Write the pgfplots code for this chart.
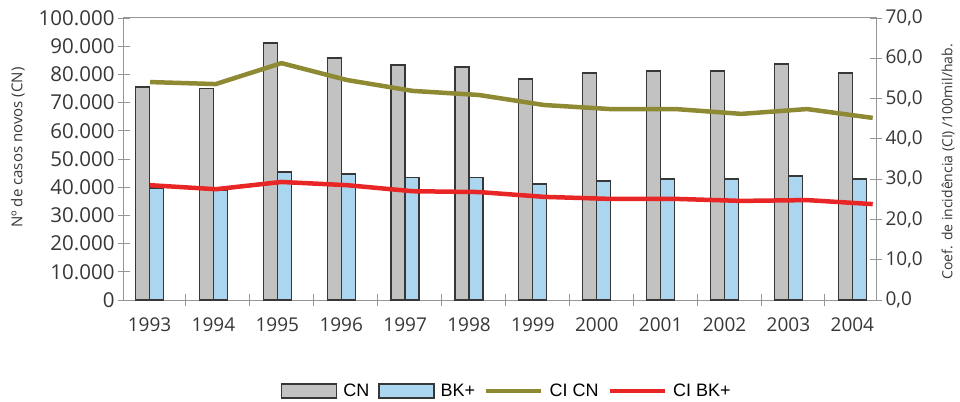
\documentclass[border=0pt]{standalone}
\usepackage{fontspec}
\setmainfont{Open Sans}
\newfontfamily\legfont{Liberation Sans}
\usepackage{pgfplots}
\pgfplotsset{compat=1.18}
\definecolor{cngray}{RGB}{194,194,194}
\definecolor{bkblue}{RGB}{170,214,240}
\definecolor{barline}{RGB}{55,55,55}
\definecolor{olivec}{RGB}{142,138,52}
\definecolor{cired}{RGB}{232,38,38}
\definecolor{axgray}{RGB}{150,150,150}
\definecolor{txt}{RGB}{55,55,55}
\begin{document}
\begin{tikzpicture}
\begin{axis}[name=ax, scale only axis, width=752bp, height=282bp,
  xmin=-0.29, xmax=11.48, ymin=0, ymax=100000,
  axis line style={axgray, line width=1bp},
  tick align=center, tick style={axgray, line width=0.8bp},
  ytick={0,10000,...,100000}, ytick pos=left, major tick length=12bp,
  scaled y ticks=false,
  /pgf/number format/fixed, /pgf/number format/1000 sep={.}, /pgf/number format/assume math mode=true,
  yticklabel style={font=\fontsize{20.5bp}{20.5bp}\selectfont, text=txt},
  xtick={0.11,1.11,2.11,3.11,4.11,5.11,6.11,7.11,8.11,9.11,10.11,11.11},
  xticklabels={1993,1994,1995,1996,1997,1998,1999,2000,2001,2002,2003,2004},
  x tick style={draw=none}, xtick pos=bottom,
  xticklabel style={font=\fontsize{19bp}{19bp}\selectfont, text=txt, yshift=-8bp},
  ylabel={Nº de casos novos (CN)},
  ylabel style={at={(axis description cs:-0.141,0.54)}, anchor=center, font=\fontsize{15bp}{15bp}\selectfont, text=txt},
  clip=false, unbounded coords=jump,
]
\addplot[ybar, bar width=14bp, bar shift=0bp, fill=cngray, draw=barline, line width=1.2bp]
 coordinates {(0,75500) (1,75000) (2,91100) (3,85800) (4,83300) (5,82600) (6,78400) (7,80500) (8,81200) (9,81200) (10,83700) (11,80500)};
\addplot[ybar, bar width=14bp, bar shift=14bp, fill=bkblue, draw=barline, line width=1.2bp]
 coordinates {(0,39700) (1,39000) (2,45400) (3,44700) (4,43300) (5,43300) (6,41100) (7,42200) (8,42900) (9,42900) (10,44000) (11,42900)};
% category separator marks on the x axis
\addplot[axgray, line width=1bp, mark=none]
 coordinates {(0.68,-2000) (0.68,2000) (nan,nan) (1.68,-2000) (1.68,2000) (nan,nan)
  (2.68,-2000) (2.68,2000) (nan,nan) (3.68,-2000) (3.68,2000) (nan,nan)
  (4.68,-2000) (4.68,2000) (nan,nan) (5.68,-2000) (5.68,2000) (nan,nan)
  (6.68,-2000) (6.68,2000) (nan,nan) (7.68,-2000) (7.68,2000) (nan,nan)
  (8.68,-2000) (8.68,2000) (nan,nan) (9.68,-2000) (9.68,2000) (nan,nan)
  (10.68,-2000) (10.68,2000)};
\end{axis}
\begin{axis}[scale only axis, width=752bp, height=282bp,
  xmin=-0.396, xmax=11.05, ymin=0, ymax=70,
  axis x line=none, axis y line*=right,
  axis line style={axgray, line width=1bp},
  tick align=center, tick style={axgray, line width=0.8bp}, major tick length=12bp,
  ytick={0,10,...,70},
  /pgf/number format/fixed, /pgf/number format/fixed zerofill, /pgf/number format/precision=1,
  /pgf/number format/use comma, /pgf/number format/assume math mode=true,
  yticklabel style={font=\fontsize{19bp}{19bp}\selectfont, text=txt},
  ylabel={Coef. de incidência (CI) /100mil/hab.},
  ylabel style={at={(axis description cs:1.096,0.49)}, anchor=center, rotate=0, font=\fontsize{14bp}{14bp}\selectfont, text=txt},
  clip=false,
  legend columns=4,
  legend style={draw=none, fill=none, at={(axis description cs:0.508,-0.323)}, anchor=center,
    font=\legfont\fontsize{18bp}{18bp}\selectfont, text=black,
    nodes={inner sep=0pt},
    /tikz/every odd column/.style={column sep=6bp},
    /tikz/every even column/.style={column sep=9bp}},
]
\addlegendimage{legend image code/.code={\draw[fill=cngray, draw=barline, line width=1.2bp] (0bp,-7bp) rectangle (55bp,7bp);}}
\addlegendentry{CN}
\addlegendimage{legend image code/.code={\draw[fill=bkblue, draw=barline, line width=1.2bp] (0bp,-7bp) rectangle (55bp,7bp);}}
\addlegendentry{BK+}
\addlegendimage{legend image code/.code={\draw[olivec, line width=4.5bp] (0bp,0bp) -- (55bp,0bp);}}
\addlegendentry{CI CN}
\addlegendimage{legend image code/.code={\draw[cired, line width=4.5bp] (0bp,0bp) -- (55bp,0bp);}}
\addlegendentry{CI BK+}
\addplot[olivec, line width=4.5bp, line join=round, forget plot]
 coordinates {(0,54.1) (1,53.6) (2,58.8) (3,54.6) (4,51.9) (5,50.9) (6,48.4) (7,47.4) (8,47.4) (9,46.2) (10,47.4) (11,45.2)};
\addplot[cired, line width=4.5bp, line join=round, forget plot]
 coordinates {(0,28.5) (1,27.5) (2,29.3) (3,28.5) (4,27.0) (5,26.8) (6,25.6) (7,25.1) (8,25.1) (9,24.6) (10,24.8) (11,23.8)};
\end{axis}
\pgfresetboundingbox
\path[use as bounding box] ([shift={(-124bp,-102bp)}]ax.south west) rectangle ++(960bp,402bp);
\end{tikzpicture}
\end{document}
